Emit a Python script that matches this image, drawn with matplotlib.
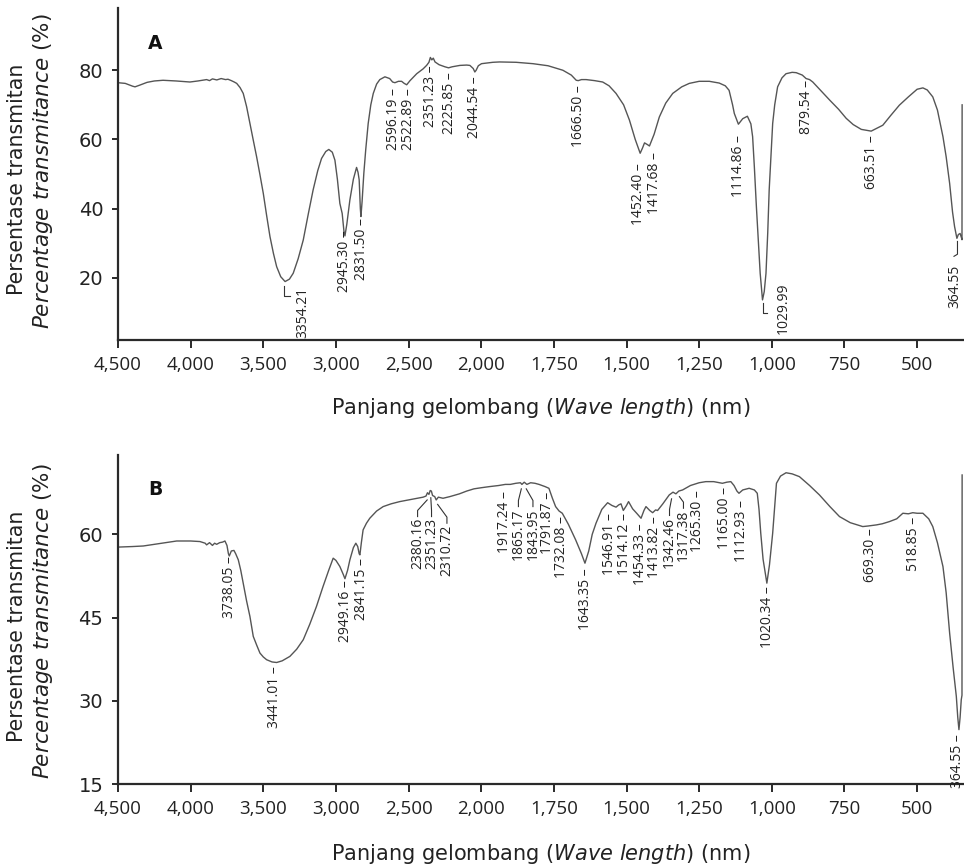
import numpy as np
import matplotlib
matplotlib.use("Agg")
import matplotlib.pyplot as plt

# ---------------- data (wavenumber, % transmittance) ----------------
wnA = [4500, 4450, 4400, 4383, 4350, 4300, 4250, 4190, 4100, 4005, 3950, 3890, 3870, 3850,
       3820, 3790, 3760, 3743, 3720, 3700, 3683, 3660, 3638, 3615, 3592, 3570, 3546, 3523,
       3500, 3477, 3454, 3430, 3408, 3380, 3350, 3320, 3294, 3260, 3225, 3190, 3157, 3125,
       3099, 3070, 3049, 3025, 3007, 2990, 2973, 2957, 2945, 2938, 2925, 2904, 2880, 2858,
       2848, 2840, 2832, 2828, 2820, 2808, 2795, 2778, 2760, 2743, 2720, 2698, 2663, 2630,
       2610, 2594, 2570, 2548, 2530, 2513, 2490, 2444, 2400, 2376, 2360, 2350, 2340, 2330,
       2318, 2290, 2250, 2225, 2200, 2147, 2100, 2078, 2055, 2044, 2035, 2020, 1999, 1960,
       1937, 1880, 1822, 1770, 1719, 1690, 1673, 1666, 1655, 1639, 1610, 1582, 1560, 1536,
       1510, 1490, 1470, 1453, 1445, 1438, 1428, 1421, 1405, 1387, 1365, 1341, 1310, 1284,
       1250, 1215, 1181, 1160, 1147, 1135, 1129, 1115, 1100, 1084, 1072, 1066, 1060, 1053,
       1046, 1040, 1032, 1026, 1020, 1014, 1009, 1003, 997, 990, 980, 965, 951, 930,
       916, 895, 882, 870, 859, 830, 800, 770, 744, 720, 692, 658, 618, 590,
       561, 530, 500, 480, 465, 446, 430, 411, 400, 388, 378, 371, 363, 358,
       352, 347, 345.5, 345]
tA = [76.4, 76.2, 75.4, 75.2, 75.7, 76.5, 76.9, 77.1, 76.9, 76.6, 76.9, 77.3, 77.0, 77.5,
      77.2, 77.6, 77.3, 77.4, 77.0, 76.6, 76.2, 75.0, 73.3, 69.5, 64.6, 60.0, 55.0, 49.8,
      44.4, 38.0, 31.9, 27.0, 23.2, 20.3, 18.9, 19.6, 21.3, 25.5, 30.9, 38.5, 45.4, 51.0,
      54.5, 56.5, 57.1, 56.3, 54.0, 48.5, 41.5, 38.6, 33.5, 32.1, 35.5, 42.5, 48.5, 51.9,
      50.5, 48.3, 40.0, 37.7, 42.0, 50.2, 57.0, 64.6, 70.0, 73.3, 76.0, 77.3, 78.1, 77.6,
      76.6, 76.4, 76.8, 76.8, 76.2, 75.8, 77.0, 79.0, 80.4, 81.4, 82.3, 83.7, 83.0, 83.5,
      82.4, 81.6, 81.0, 80.7, 81.0, 81.4, 81.5, 81.4, 80.5, 79.5, 80.0, 81.3, 81.9, 82.3,
      82.4, 82.3, 81.9, 81.3, 80.0, 78.6, 77.1, 77.0, 77.3, 77.3, 77.0, 76.6, 75.5, 73.3,
      70.0, 65.6, 60.0, 56.0, 57.5, 59.0, 58.5, 58.1, 61.5, 66.5, 70.5, 73.3, 75.2, 76.2,
      76.8, 76.8, 76.3, 75.5, 74.2, 70.0, 67.5, 64.4, 66.0, 66.7, 64.5, 60.8, 52.0, 40.5,
      30.0, 21.3, 13.6, 16.0, 21.3, 33.0, 45.4, 55.0, 64.6, 70.0, 75.2, 77.8, 79.0, 79.4,
      79.3, 78.6, 77.6, 77.3, 76.6, 74.0, 71.3, 68.7, 66.1, 64.3, 62.9, 62.4, 64.1, 67.0,
      69.9, 72.3, 74.5, 74.9, 74.3, 72.3, 68.5, 60.8, 55.0, 47.3, 39.0, 34.8, 31.4, 32.5,
      32.8, 31.5, 31.0, 70.0]

wnB = [4500, 4400, 4326, 4200, 4096, 4000, 3936, 3900, 3890, 3870, 3850, 3835, 3821, 3800,
       3780, 3764, 3750, 3740, 3734, 3720, 3702, 3690, 3672, 3655, 3638, 3615, 3592, 3569,
       3545, 3523, 3500, 3477, 3440, 3408, 3370, 3317, 3270, 3225, 3180, 3134, 3090, 3050,
       3019, 3000, 2973, 2950, 2938, 2920, 2904, 2880, 2863, 2850, 2840, 2835, 2825, 2813,
       2790, 2767, 2720, 2675, 2620, 2561, 2480, 2400, 2380, 2370, 2360, 2351, 2343, 2335,
       2320, 2310, 2295, 2263, 2216, 2150, 2100, 2050, 2000, 1972, 1940, 1917, 1900, 1881,
       1865, 1860, 1852, 1843, 1830, 1815, 1801, 1790, 1780, 1767, 1755, 1744, 1732, 1721,
       1700, 1675, 1655, 1643, 1630, 1618, 1605, 1585, 1565, 1550, 1536, 1527, 1519, 1511,
       1500, 1493, 1479, 1465, 1450, 1440, 1433, 1420, 1410, 1400, 1393, 1375, 1353, 1340,
       1330, 1320, 1307, 1280, 1250, 1227, 1200, 1170, 1155, 1141, 1130, 1120, 1113, 1100,
       1078, 1060, 1050, 1044, 1038, 1030, 1017, 1008, 997, 990, 984, 970, 951, 930,
       905, 870, 836, 800, 767, 730, 700, 687, 669, 640, 620, 595, 570, 549,
       530, 515, 500, 480, 460, 446, 430, 411, 400, 388, 376, 365, 360, 356,
       352, 348, 345.5, 345]
tB = [57.7, 57.8, 57.9, 58.4, 58.8, 58.8, 58.7, 58.4, 58.1, 58.5, 58.0, 58.4, 58.2, 58.5,
      58.6, 58.8, 58.0, 56.5, 56.1, 57.0, 57.1, 56.5, 55.4, 53.5, 51.2, 48.0, 45.2, 41.6,
      40.0, 38.6, 37.9, 37.4, 37.0, 36.9, 37.2, 38.0, 39.3, 41.0, 43.8, 47.0, 50.5, 53.5,
      55.7, 55.3, 54.2, 52.8, 52.0, 53.5, 55.4, 57.6, 58.4, 57.8, 56.5, 56.3, 58.5, 60.8,
      62.0, 62.9, 64.2, 65.0, 65.5, 65.9, 66.3, 66.7, 66.9, 67.5, 67.2, 67.9, 67.8, 67.0,
      66.8, 66.2, 66.7, 66.5, 66.8, 67.3, 67.8, 68.2, 68.4, 68.6, 68.8, 69.0, 69.0, 69.2,
      69.3, 69.0, 69.4, 69.0, 69.3, 69.2, 69.0, 68.8, 68.6, 68.3, 66.5, 65.0, 64.2, 63.8,
      61.8, 59.0, 56.5, 54.8, 57.0, 60.0, 62.0, 64.5, 65.7, 65.2, 64.9, 65.3, 65.5, 64.3,
      65.2, 65.9, 64.6, 63.8, 62.9, 64.3, 65.0, 64.3, 63.9, 64.4, 64.3, 65.5, 67.1, 67.6,
      67.3, 67.8, 68.0, 68.8, 69.3, 69.5, 69.5, 69.2, 69.4, 69.5, 68.8, 67.8, 67.4, 68.0,
      68.3, 68.0, 67.4, 64.5, 60.2, 55.5, 51.2, 54.5, 60.2, 65.0, 69.2, 70.5, 71.1, 70.9,
      70.4, 68.8, 67.1, 65.0, 63.2, 62.1, 61.6, 61.4, 61.5, 61.7, 61.9, 62.3, 62.8, 63.8,
      63.7, 63.9, 63.8, 63.8, 62.8, 61.4, 58.5, 54.2, 49.5, 42.2, 36.0, 30.8, 27.0, 24.8,
      27.0, 30.2, 31.0, 70.7]

# peak labels with a dash: text, x position, top y
peaksA = ["2945.30", "2831.50", "2596.19", "2522.89", "2351.23", "2225.85", "2044.54",
          "1666.50", "1452.40", "1417.68", "1114.86", "879.54", "663.51"]
peaksA_x = [2940, 2822, 2602, 2500, 2349, 2221, 2044, 1666, 1458, 1404, 1114, 880, 657]
peaksA_y = [33.8, 37.3, 74.8, 74.8, 81.4, 79.5, 78.1, 75.7, 53.1, 56.4, 61.2, 77.1, 61.2]

peaksB = ["3738.05", "3441.01", "2949.16", "2841.15", "1917.24", "1791.87", "1732.08",
          "1643.35", "1546.91", "1514.12", "1454.33", "1413.82", "1265.30", "1165.00",
          "1112.93", "1020.34", "669.30", "518.85", "364.55"]
peaksB_x = [3730, 3420, 2936, 2822, 1921, 1772, 1724, 1640, 1558, 1506, 1452, 1403, 1254,
            1162, 1105, 1016, 660, 512, 362]
peaksB_y = [56.0, 36.2, 51.8, 55.7, 67.7, 67.7, 63.2, 53.9, 63.8, 63.8, 62.0, 63.2, 68.0,
            68.6, 66.2, 50.6, 61.1, 63.2, 24.0]

# connector labels in B: text, text x, text top, peak x, peak y
connB = ["2380.16", "2351.23", "2310.72", "1865.17", "1843.95", "1342.46", "1317.38"]
connB_x = [2438, 2342, 2236, 1872, 1822, 1352, 1304]
connB_y = [62.9, 62.9, 61.7, 64.7, 64.7, 63.1, 64.4]
connB_px = [2372, 2347, 2300, 1862, 1845, 1345, 1318]
connB_py = [66.2, 66.6, 65.4, 68.2, 68.2, 66.4, 66.8]

xticks = [4500, 4000, 3500, 3000, 2500, 2000, 1750, 1500, 1250, 1000, 750, 500]
xticklabels = ["4,500", "4,000", "3,500", "3,000", "2,500", "2,000", "1,750", "1,500",
               "1,250", "1,000", "750", "500"]


def fwd(x):
    x = np.asarray(x, dtype=float)
    return np.where(x >= 2000, x / 500.0, (x - 1000.0) / 250.0)


def inv(p):
    p = np.asarray(p, dtype=float)
    return np.where(p >= 4, p * 500.0, p * 250.0 + 1000.0)


W, H = 964, 868
fig = plt.figure(figsize=(W / 100, H / 100), dpi=100)
axA = fig.add_axes([118 / W, 1 - 340 / H, 845 / W, 332 / H])
axB = fig.add_axes([118 / W, 1 - 784 / H, 845 / W, 329 / H])

line_color = '#555555'
spine_color = '#2a2a2a'
lab_font = dict(family='Open Sans', size=10, color='#222222')

for ax, wn, t in ((axA, wnA, tA), (axB, wnB, tB)):
    ax.set_xscale('function', functions=(fwd, inv))
    ax.plot(wn, t, color=line_color, lw=1.0)
    ax.set_xlim(4500, 342)
    ax.set_xticks(xticks)
    ax.set_xticklabels(xticklabels, fontfamily='Open Sans', fontsize=13.5, color='#222222')
    ax.xaxis.set_minor_locator(matplotlib.ticker.NullLocator())
    for s in ('top', 'right'):
        ax.spines[s].set_visible(False)
    for s in ('left', 'bottom'):
        ax.spines[s].set_linewidth(1.6)
        ax.spines[s].set_color(spine_color)
    ax.tick_params(axis='x', direction='out', length=5.5, width=1.4, color=spine_color, pad=6)
    ax.tick_params(axis='y', direction='out', length=4.5, width=1.4, color=spine_color, pad=6,
                   labelsize=14, labelcolor='#222222')

axA.set_ylim(2, 98)
axA.set_yticks([20, 40, 60, 80])
axB.set_ylim(15, 74.3)
axB.set_yticks([15, 30, 45, 60])
for ax in (axA, axB):
    for lbl in ax.get_yticklabels():
        lbl.set_fontfamily('DejaVu Sans')
        lbl.set_fontsize(14)

# panel letters
axA.text(0.0355, 0.893, 'A', transform=axA.transAxes, fontsize=13.5, fontweight='bold',
         family='DejaVu Sans', va='center', ha='left', color='#111111')
axB.text(0.0355, 0.895, 'B', transform=axB.transAxes, fontsize=13.5, fontweight='bold',
         family='DejaVu Sans', va='center', ha='left', color='#111111')

# peak labels with dash
for lbls, xs, ys, ax in ((peaksA, peaksA_x, peaksA_y, axA), (peaksB, peaksB_x, peaksB_y, axB)):
    for s, x, y in zip(lbls, xs, ys):
        ax.text(x, y, s + ' \u2013', rotation=90, ha='center', va='top', **lab_font)

# special bracket labels in A
axA.text(3227, 17.4, '3354.21', rotation=90, ha='center', va='top', **lab_font)
axA.plot([3358, 3358, 3315], [17.6, 14.8, 14.8], color='#333333', lw=0.8)
axA.text(962, 18.5, '1029.99', rotation=90, ha='center', va='top', **lab_font)
axA.plot([1031, 1031, 1015], [12.6, 9.9, 9.9], color='#333333', lw=0.8)
axA.text(371, 23.7, '364.55', rotation=90, ha='center', va='top', **lab_font)
axA.plot([361, 361, 373], [30.5, 26.8, 26.2], color='#333333', lw=0.8)

# connector labels in B
for s, x, y, px, py in zip(connB, connB_x, connB_y, connB_px, connB_py):
    axB.text(x, y, s, rotation=90, ha='center', va='top', **lab_font)
    axB.plot([x, x, px], [y + 0.3, y + 1.4, py], color='#333333', lw=0.8)

# axis labels
xl = 'Panjang gelombang ($\\it{Wave\\ length}$) (nm)'
for yc in (408, 854):
    fig.text(540.5 / W, 1 - yc / H, xl, ha='center', va='center', fontsize=15,
             family='DejaVu Sans', math_fontfamily='dejavusans', color='#222222')

for yc1, yc2 in ((179, 171), (626, 621)):
    fig.text(17 / W, 1 - yc1 / H, 'Persentase transmitan', rotation=90, ha='center',
             va='center', fontsize=14.8, family='DejaVu Sans', color='#222222')
    fig.text(43 / W, 1 - yc2 / H, '$\\it{Percentage\\ transmitance}$ (%)', rotation=90,
             ha='center', va='center', fontsize=15.5, family='DejaVu Sans',
             math_fontfamily='dejavusans', color='#222222')

fig.savefig('out.png', dpi=100)
